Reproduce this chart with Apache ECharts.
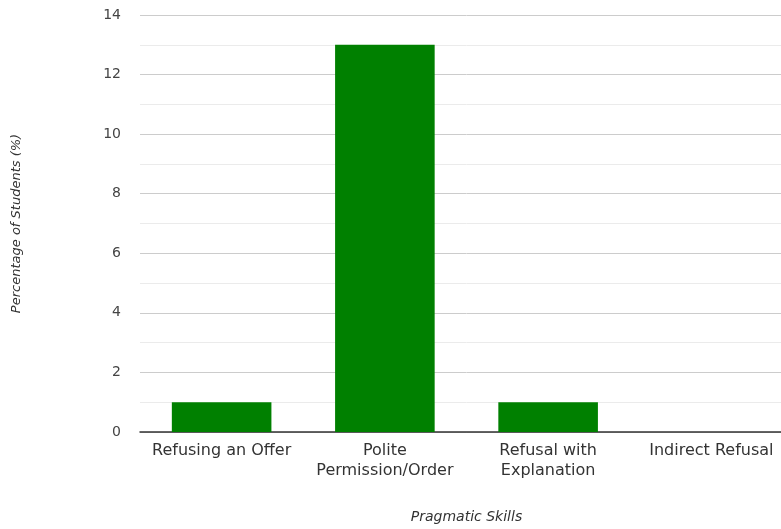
<!DOCTYPE html>
<html>
<head>
<meta charset="utf-8">
<script src="https://cdn.jsdelivr.net/npm/echarts@6/dist/echarts.min.js"></script>
<style>
html,body{margin:0;padding:0;background:#fff;overflow:hidden;width:781px;height:529px;}
#chart{width:793px;height:529px;}
</style>
</head>
<body>
<div id="chart"></div>
<script>
// Pragmatic skills and share of students
const categories = ['Refusing an Offer', 'Polite\nPermission/Order', 'Refusal with\nExplanation', 'Indirect Refusal'];
const percentages = [1, 13, 1, 0];
const yTicks = [0, 2, 4, 6, 8, 10, 12, 14];

const FONT = 'DejaVu Sans';
const chart = echarts.init(document.getElementById('chart'));
chart.setOption({
  animation: false,
  grid: { left: 140, right: 0, top: 15, bottom: 94 },
  xAxis: {
    type: 'category',
    data: categories,
    name: 'Pragmatic Skills',
    nameLocation: 'middle',
    nameGap: 78,
    nameTextStyle: { fontFamily: FONT, fontStyle: 'italic', fontSize: 14, color: '#333' },
    axisLine: { lineStyle: { color: '#333', width: 1.5 } },
    axisTick: { show: false },
    axisLabel: { fontFamily: FONT, fontSize: 16, color: '#333', margin: 9, lineHeight: 20, interval: 0 }
  },
  yAxis: {
    type: 'value',
    min: yTicks[0],
    max: yTicks[yTicks.length - 1],
    interval: 2,
    name: 'Percentage of Students (%)',
    nameLocation: 'middle',
    nameGap: 117,
    nameTextStyle: { fontFamily: FONT, fontStyle: 'italic', fontSize: 13, color: '#333' },
    axisLine: { show: false },
    axisTick: { show: false },
    axisLabel: { fontFamily: FONT, fontSize: 14, color: '#444', margin: 19 },
    splitLine: { lineStyle: { color: '#cccccc' } },
    minorTick: { show: false, splitNumber: 2 },
    minorSplitLine: { show: true, lineStyle: { color: '#ebebeb' } }
  },
  series: [{
    type: 'bar',
    data: percentages,
    barWidth: '61%',
    itemStyle: { color: '#008000' }
  }]
});
</script>
</body>
</html>
